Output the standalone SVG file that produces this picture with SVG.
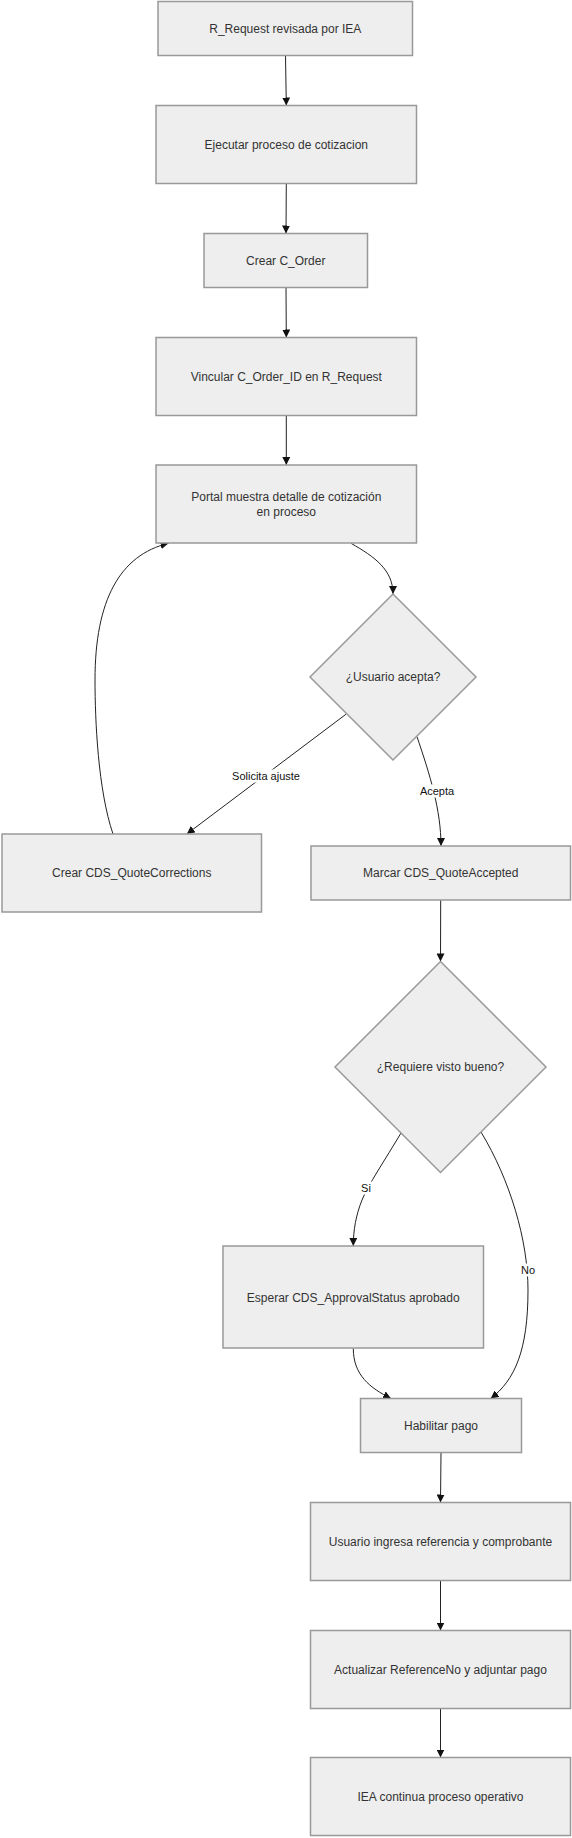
<svg xmlns="http://www.w3.org/2000/svg" width="572" height="1838" viewBox="0 0 572 1838">
<style>
.n rect,.n polygon{fill:#eeeeee;stroke:#999999;stroke-width:1.5}
.n text{font-family:"Liberation Sans",Arial,sans-serif;font-size:12px;fill:#333333;text-anchor:middle;dominant-baseline:central}
.e path{fill:none;stroke:#222222;stroke-width:1}
.lb rect{fill:#ffffff}
.lb text{font-family:"Liberation Sans",Arial,sans-serif;font-size:11px;fill:#111111;text-anchor:middle;dominant-baseline:central}
</style>
<defs>
<marker id="ah" viewBox="0 0 10 10" refX="10" refY="5" markerWidth="8" markerHeight="8" markerUnits="userSpaceOnUse" orient="auto">
<path d="M0,0 L10,5 L0,10 z" fill="#111111"/>
</marker>
</defs>
<rect width="572" height="1838" fill="#ffffff"/>
<g id="connectors" class="e">
<path d="M285.5,55.5 L286.3,105.5" marker-end="url(#ah)"/>
<path d="M286.3,183.5 L286,233.5" marker-end="url(#ah)"/>
<path d="M286,287.5 L286.3,337.5" marker-end="url(#ah)"/>
<path d="M286.3,415.5 L286.3,465" marker-end="url(#ah)"/>
<path d="M351,543.3 C375,557 393,570 393,594" marker-end="url(#ah)"/>
<path d="M345.9,714.3 L186.8,834" marker-end="url(#ah)"/>
<path d="M417,736.7 C430,775 441,810 441,846" marker-end="url(#ah)"/>
<path d="M113,834 C98,790 95,720 95,680 C95,600 120,555 168.5,543.3" marker-end="url(#ah)"/>
<path d="M440.7,900 L440.5,961.5" marker-end="url(#ah)"/>
<path d="M401,1133 C385,1160 368,1185 362,1200 C356,1215 353.3,1230 353.3,1246" marker-end="url(#ah)"/>
<path d="M481,1132 C510,1180 528,1240 528,1290 C528,1350 515,1380 490.7,1398.5" marker-end="url(#ah)"/>
<path d="M353.3,1348.5 C353.3,1375 370,1388 391,1398.5" marker-end="url(#ah)"/>
<path d="M441,1452.5 L440.5,1502.5" marker-end="url(#ah)"/>
<path d="M440.5,1580.5 L440.5,1630.5" marker-end="url(#ah)"/>
<path d="M440.5,1708.5 L440.5,1757.5" marker-end="url(#ah)"/>
<g class="lb">
<rect x="232" y="769.5" width="68" height="13"/><text x="266" y="776">Solicita ajuste</text>
<rect x="420" y="784.5" width="34" height="13"/><text x="437" y="791">Acepta</text>
<rect x="360" y="1181.5" width="12" height="13"/><text x="366" y="1188">Si</text>
<rect x="520" y="1263.5" width="16" height="13"/><text x="528" y="1270">No</text>
</g>
</g>
<g id="n1" class="n"><rect x="158" y="1.5" width="254.5" height="54"/><text x="285.3" y="28.5">R_Request revisada por IEA</text></g>
<g id="n2" class="n"><rect x="156" y="105.5" width="260.5" height="78"/><text x="286.3" y="144.5">Ejecutar proceso de cotizacion</text></g>
<g id="n3" class="n"><rect x="204" y="233.5" width="163.5" height="54"/><text x="285.8" y="260.5">Crear C_Order</text></g>
<g id="n4" class="n"><rect x="156" y="337.5" width="260.5" height="78"/><text x="286.3" y="376.5">Vincular C_Order_ID en R_Request</text></g>
<g id="n5" class="n"><rect x="156" y="465" width="260.5" height="78"/><text x="286.3" y="497">Portal muestra detalle de cotización</text><text x="286.3" y="511.5">en proceso</text></g>
<g id="d1" class="n"><polygon points="393,594 476,677 393,760 310,677"/><text x="393" y="677">¿Usuario acepta?</text></g>
<g id="n6" class="n"><rect x="2" y="834" width="259.5" height="78"/><text x="131.75" y="873">Crear CDS_QuoteCorrections</text></g>
<g id="n7" class="n"><rect x="311" y="846" width="259.5" height="54"/><text x="440.75" y="873">Marcar CDS_QuoteAccepted</text></g>
<g id="d2" class="n"><polygon points="440.5,961.5 546,1067 440.5,1172.5 335,1067"/><text x="440.5" y="1067">¿Requiere visto bueno?</text></g>
<g id="n8" class="n"><rect x="223" y="1246" width="260.5" height="102"/><text x="353.25" y="1297.5">Esperar CDS_ApprovalStatus aprobado</text></g>
<g id="n9" class="n"><rect x="360.5" y="1398.5" width="161" height="54"/><text x="441" y="1425.5">Habilitar pago</text></g>
<g id="n10" class="n"><rect x="310.5" y="1502.5" width="260" height="78"/><text x="440.5" y="1541.5">Usuario ingresa referencia y comprobante</text></g>
<g id="n11" class="n"><rect x="310.5" y="1630.5" width="260" height="78"/><text x="440.5" y="1669.5">Actualizar ReferenceNo y adjuntar pago</text></g>
<g id="n12" class="n"><rect x="310.5" y="1757.5" width="260" height="78"/><text x="440.5" y="1796.5">IEA continua proceso operativo</text></g>
</svg>
